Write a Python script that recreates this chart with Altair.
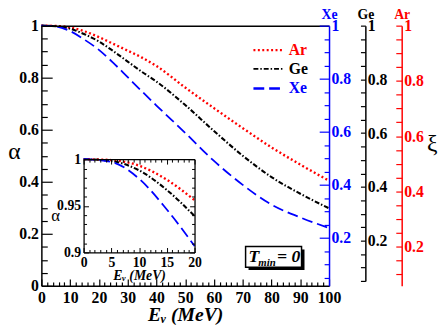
import altair as alt
import pandas as pd

# ---------------- data ----------------
energy = [0, 5, 10, 15, 20, 25, 30, 35, 40, 50, 60, 70, 80, 90, 100]
alpha_ar = [1.0, 0.999, 0.993, 0.978, 0.956, 0.930, 0.904, 0.877, 0.845, 0.762, 0.683, 0.606, 0.532, 0.466, 0.404]
alpha_ge = [1.0, 0.998, 0.988, 0.967, 0.939, 0.902, 0.862, 0.822, 0.785, 0.695, 0.595, 0.500, 0.418, 0.354, 0.298]
alpha_xe = [1.0, 0.997, 0.979, 0.946, 0.907, 0.857, 0.802, 0.747, 0.693, 0.588, 0.480, 0.388, 0.312, 0.263, 0.222]
series = ["Ar", "Ge", "Xe"]
colors = ["#ff0000", "#000000", "#0000ff"]
dashes = [[2, 2.5], [5, 2, 1.5, 2], [11, 5]]
widths = [2.4, 1.8, 2.4]

main_x_ticks = list(range(0, 101, 2))
main_y_ticks = [round(i * 0.05, 2) for i in range(21)]
xi_ticks = [round(i * 0.05, 2) for i in range(1, 21)]
inset_x_ticks = list(range(0, 21))
inset_y_ticks = [round(0.9 + i * 0.01, 2) for i in range(11)]

rows = []
for s, vals in zip(series, [alpha_ar, alpha_ge, alpha_xe]):
    for e, a in zip(energy, vals):
        rows.append({"E": e, "alpha": a, "el": s})
df = pd.DataFrame(rows)
inset_df = df[df["E"] <= 20]

FONT = "Liberation Serif"
W, H = 293, 265


def major(step):
    return f"abs(datum.value/{step} - round(datum.value/{step})) < 1e-6"


def tsize(step, big, small):
    return {"condition": {"test": major(step), "value": big}, "value": small}


common = dict(grid=False, labelFont=FONT, labelFontWeight="bold", titleFont=FONT,
              zindex=1, labelOverlap=False, labelFlush=False)

color_enc = alt.Color("el:N", scale=alt.Scale(domain=series, range=colors), legend=None)
dash_enc = alt.StrokeDash("el:N", scale=alt.Scale(domain=series, range=dashes), legend=None)
width_enc = alt.StrokeWidth("el:N", scale=alt.Scale(domain=series, range=widths), legend=None)

# ---------------- main curves ----------------
main_lines = alt.Chart(df).mark_line(interpolate="monotone").encode(
    x=alt.X("E:Q", scale=alt.Scale(domain=[0, 100], nice=False, zero=False),
            axis=alt.Axis(orient="bottom", values=main_x_ticks, format="d",
                          labelExpr=f"{major(10)} ? datum.label : ''",
                          tickSize=tsize(10, -7, -4), labelPadding=11, labelFontSize=16,
                          labelColor="black", domainColor="black", domainWidth=1.5,
                          tickColor="black", tickWidth=1.2,
                          title="Eᵥ (MeV)", titleFontSize=20, titleFontWeight="bold",
                          titleFontStyle="italic", titleBaseline="alphabetic", titleY=35,
                          titleColor="black", **common)),
    y=alt.Y("alpha:Q", scale=alt.Scale(domain=[0, 1], nice=False, zero=False),
            axis=alt.Axis(orient="left", values=main_y_ticks, format="~g",
                          labelExpr=f"{major(0.2)} ? datum.label : ''",
                          tickSize=tsize(0.2, -11, -6), labelPadding=14, labelFontSize=16,
                          labelColor="black", domainColor="black", domainWidth=1.5,
                          tickColor="black", tickWidth=1.2,
                          title="α", titleAngle=0, titleX=-28, titleY=135, titleAlign="center",
                          titleBaseline="alphabetic", titleFontSize=24, titleFontWeight="normal",
                          titleColor="black", **common)),
    color=color_enc, strokeDash=dash_enc, strokeWidth=width_enc, detail="el:N",
)

# top border + Xe axis (blue)
xe_axis = alt.Chart(df).mark_point(opacity=0).encode(
    x=alt.X("E:Q", scale=alt.Scale(domain=[0, 100], nice=False, zero=False),
            axis=alt.Axis(orient="top", ticks=False, labels=False, domainColor="black",
                          domainWidth=1.5, title=None, grid=False, zindex=1)),
    y=alt.Y("alpha:Q", scale=alt.Scale(domain=[0.02, 1], nice=False, zero=False),
            axis=alt.Axis(orient="right", values=xi_ticks, format="~g",
                          labelExpr=f"{major(0.2)} ? datum.label : ''",
                          tickSize=tsize(0.2, -10, -5), labelPadding=12, labelFontSize=16,
                          labelColor="#0000ff", domainColor="#0000ff", domainWidth=1.5,
                          tickColor="#0000ff", tickWidth=1.2,
                          title="Xe", titleAngle=0, titleX=0, titleY=-7, titleAlign="center",
                          titleBaseline="alphabetic", titleFontSize=14, titleFontWeight="bold",
                          titleColor="#0000ff", **common)),
)

ge_axis = alt.Chart(df).mark_point(opacity=0).encode(
    y=alt.Y("alpha:Q", scale=alt.Scale(domain=[0.05, 1], range=[260, 0], nice=False, zero=False),
            axis=alt.Axis(orient="right", offset=37, values=xi_ticks, format="~g",
                          labelExpr=f"{major(0.2)} ? datum.label : ''",
                          tickSize=tsize(0.2, -5, -5), labelPadding=7, labelFontSize=16,
                          labelColor="black", domainColor="black", domainWidth=1.5,
                          tickColor="black", tickWidth=1.2,
                          title="Ge", titleAngle=0, titleX=0, titleY=-7, titleAlign="center",
                          titleBaseline="alphabetic", titleFontSize=14, titleFontWeight="bold",
                          titleColor="black", **common)),
)

ar_axis = alt.Chart(df).mark_point(opacity=0).encode(
    y=alt.Y("alpha:Q", scale=alt.Scale(domain=[0.058, 1], nice=False, zero=False),
            axis=alt.Axis(orient="right", offset=74, values=xi_ticks, format="~g",
                          labelExpr=f"{major(0.2)} ? datum.label : ''",
                          tickSize=tsize(0.2, -6, -6), labelPadding=8, labelFontSize=16,
                          labelColor="#ff0000", domainColor="#ff0000", domainWidth=1.5,
                          tickColor="#ff0000", tickWidth=1.2,
                          title="Ar", titleAngle=0, titleX=0, titleY=-7, titleAlign="center",
                          titleBaseline="alphabetic", titleFontSize=14, titleFontWeight="bold",
                          titleColor="#ff0000", **common)),
)

# ---------------- inset ----------------
ix_dom, ix_rng = [0, 20], [43, 156]
iy_dom, iy_rng = [0.9, 1], [231, 136]


def ixs():
    return alt.Scale(domain=ix_dom, range=ix_rng, nice=False, zero=False)


def iys():
    return alt.Scale(domain=iy_dom, range=iy_rng, nice=False, zero=False)


inset_bg = alt.Chart(pd.DataFrame({"x0": [0], "x1": [20], "y0": [0.9], "y1": [1.0]})).mark_rect(
    fill="white").encode(
    x=alt.X("x0:Q", scale=ixs(), axis=None), x2="x1:Q",
    y=alt.Y("y0:Q", scale=iys(), axis=None), y2="y1:Q",
)

inset_lines = alt.Chart(inset_df).mark_line(interpolate="monotone").encode(
    x=alt.X("E:Q", scale=ixs(),
            axis=alt.Axis(orient="bottom", offset=-34, values=inset_x_ticks, format="d",
                          labelExpr=f"{major(5)} ? datum.label : ''",
                          tickSize=tsize(5, -5, -3), labelPadding=8, labelFontSize=14,
                          labelColor="black", domainColor="black", domainWidth=1.3,
                          tickColor="black", tickWidth=1,
                          title="Eᵥ (MeV)", titleFontSize=14, titleFontWeight="bold",
                          titleFontStyle="italic", titleBaseline="alphabetic", titleY=28,
                          titleColor="black", **common)),
    y=alt.Y("alpha:Q", scale=iys(),
            axis=alt.Axis(orient="left", offset=-43, values=inset_y_ticks, format="~g",
                          labelExpr=f"{major(0.05)} ? datum.label : ''",
                          tickSize=tsize(0.05, -5, -3), labelPadding=8, labelFontSize=14,
                          labelColor="black", domainColor="black", domainWidth=1.3,
                          tickColor="black", tickWidth=1,
                          title="α", titleAngle=0, titleX=-29, titleY=198, titleAlign="center",
                          titleBaseline="alphabetic", titleFontSize=17, titleFontWeight="normal",
                          titleColor="black", **common)),
    color=color_enc, strokeDash=dash_enc, strokeWidth=width_enc, detail="el:N",
)

inset_frame = alt.Chart(inset_df).mark_point(opacity=0).encode(
    x=alt.X("E:Q", scale=ixs(),
            axis=alt.Axis(orient="top", offset=-136, values=inset_x_ticks, labels=False,
                          tickSize=tsize(5, -5, -3), domainColor="black", domainWidth=1.3,
                          tickColor="black", tickWidth=1, title=None, grid=False, zindex=1)),
    y=alt.Y("alpha:Q", scale=iys(),
            axis=alt.Axis(orient="right", offset=-137, values=inset_y_ticks, labels=False,
                          tickSize=tsize(0.05, -5, -3), domainColor="black", domainWidth=1.3,
                          tickColor="black", tickWidth=1, title=None, grid=False, zindex=1)),
)

# ---------------- annotations ----------------
one = pd.DataFrame({"k": [0]})
legend_y = [25, 44, 64]
leg = []
for s, c, d, w, yy in zip(series, colors, dashes, widths, legend_y):
    leg.append(alt.Chart(one).mark_rule(color=c, strokeDash=d, strokeWidth=w).encode(
        x=alt.value(216), x2=alt.value(246), y=alt.value(yy)))
    leg.append(alt.Chart(one).mark_text(text=s, color=c, font=FONT, fontWeight="bold", fontSize=16,
                                        align="left", baseline="alphabetic").encode(
        x=alt.value(252), y=alt.value(yy + 5)))

shadow = alt.Chart(one).mark_rect(color="black").encode(
    x=alt.value(211), x2=alt.value(268), y=alt.value(228), y2=alt.value(249))
box = alt.Chart(one).mark_rect(fill="white", stroke="black", strokeWidth=1.5).encode(
    x=alt.value(208), x2=alt.value(265), y=alt.value(225), y2=alt.value(246))
t_main = alt.Chart(one).mark_text(text="T", font=FONT, fontStyle="italic", fontWeight="bold",
                                  fontSize=18, align="left", baseline="alphabetic").encode(
    x=alt.value(211), y=alt.value(241))
t_sub = alt.Chart(one).mark_text(text="min", font=FONT, fontStyle="italic", fontWeight="bold",
                                 fontSize=11, align="left", baseline="alphabetic").encode(
    x=alt.value(221), y=alt.value(245))
t_eq = alt.Chart(one).mark_text(text="= 0", font=FONT, fontStyle="italic", fontWeight="bold",
                                fontSize=18, align="left", baseline="alphabetic").encode(
    x=alt.value(240), y=alt.value(241))
xi = alt.Chart(one).mark_text(text="ξ", font=FONT, fontSize=24, align="center",
                              baseline="alphabetic").encode(x=alt.value(398), y=alt.value(128))

chart = alt.layer(
    main_lines, xe_axis, ge_axis, ar_axis, inset_bg, inset_lines, inset_frame,
    *leg, shadow, box, t_main, t_sub, t_eq, xi,
).resolve_scale(x="independent", y="independent").properties(
    width=W, height=H,
    autosize=alt.AutoSizeParams(type="none"),
    padding={"left": 34, "top": 15, "right": 112, "bottom": 41},
).configure_view(stroke=None)

chart.save("out.html", embed_options={"renderer": "svg", "actions": False})
